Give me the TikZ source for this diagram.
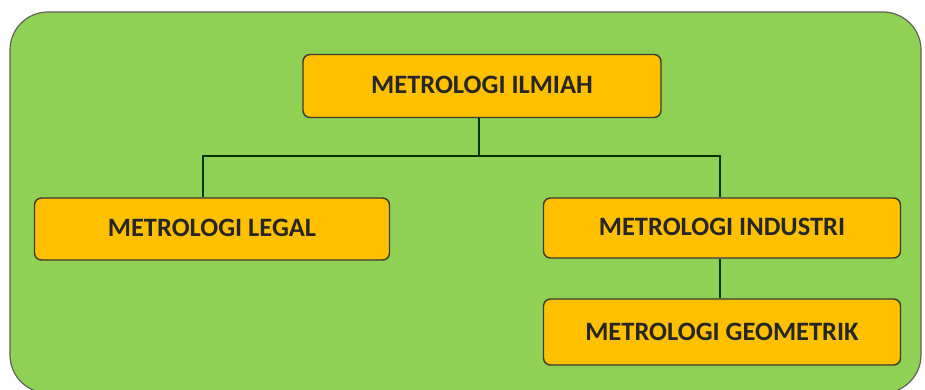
\documentclass[tikz,border=0pt]{standalone}
\usepackage{fontspec}
\setmainfont{Carlito}
\definecolor{bggreen}{HTML}{8FD154}
\definecolor{boxgold}{HTML}{FFC000}
\definecolor{edgedark}{HTML}{3A3A30}
\begin{document}
\begin{tikzpicture}[x=1pt,y=-1pt,
  orgbox/.style={draw=edgedark,line width=1.4pt,fill=boxgold,rounded corners=7pt,
    font=\bfseries\fontsize{26.5}{29}\selectfont,text=black!85},
  link/.style={draw=black!80!green,line width=1.4pt}]
\useasboundingbox (0,0) rectangle (925,389);
\fill[white] (0,0) rectangle (925,389);
\path[draw=edgedark!80,line width=1.2pt,fill=bggreen,rounded corners=38pt] (10,12) rectangle (921,393);
\node[orgbox,minimum width=358pt,minimum height=63pt] (ilmiah) at (482,86) {\raisebox{3pt}{METROLOGI ILMIAH}};
\node[orgbox,minimum width=355pt,minimum height=62pt] (legal) at (212,229) {\raisebox{2pt}{METROLOGI LEGAL}};
\node[orgbox,minimum width=357pt,minimum height=60pt] (industri) at (722,228) {\raisebox{2pt}{METROLOGI INDUSTRI}};
\node[orgbox,minimum width=357pt,minimum height=66pt] (geometrik) at (722,332) {METROLOGI GEOMETRIK};
\coordinate (hub) at (479,156);
\draw[link] (ilmiah.south -| hub) -- (hub);
\draw[link] (legal.north -| 203,0) |- (hub) -| (industri.north -| 720,0);
\draw[link] (industri.south -| 720,0) -- (geometrik.north -| 720,0);
\end{tikzpicture}
\end{document}
